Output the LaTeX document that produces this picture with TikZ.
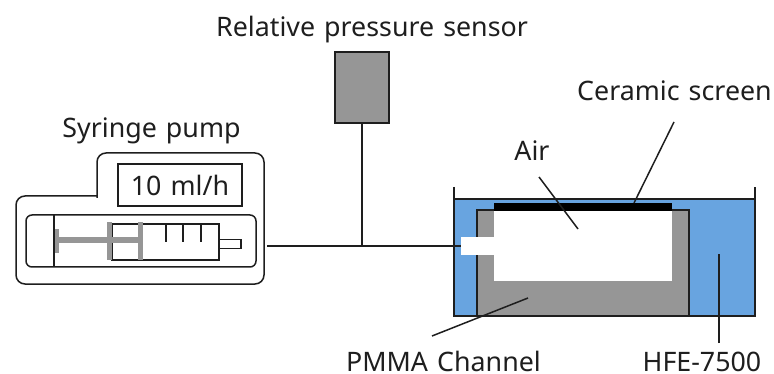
\documentclass[tikz,border=0pt]{standalone}
\usepackage{fontspec}
\setmainfont[WordSpace=1.3]{Noto Sans}
\definecolor{tankblue}{RGB}{104,164,224}
\definecolor{pmma}{RGB}{150,150,150}
\definecolor{ink}{RGB}{30,30,30}
\tikzset{
  outline/.style={draw=ink,line width=1.5pt},
  leader/.style={draw=ink,line width=1.5pt},
  lbl/.style={inner sep=0pt,anchor=base,font=\fontsize{26.8}{30}\selectfont,text=ink},
  blk/.style={inner sep=0pt,outer sep=0pt,minimum width=0pt,minimum height=0pt}
}
\begin{document}
\begin{tikzpicture}[x=1pt,y=-1pt]
\useasboundingbox (0,0) rectangle (774,374);
% pump case
\draw[outline,rounded corners=9pt] (97,198) -- (97,153) -- (264,153) -- (264,284) -- (16,284) -- (16,196) -- (97,196);
\node[draw=ink,line width=1.5pt,blk,minimum width=124pt,minimum height=42pt,font=\fontsize{26.8}{30}\selectfont,text=ink] (rate) at (180,185) {10 ml/h};
\node[draw=ink,line width=1.5pt,rounded corners=6pt,blk,minimum width=230pt,minimum height=52pt] (bay) at (141,241) {};
\draw[outline] (54,215) -- (54,267);
% syringe
\node[draw=ink,line width=1.5pt,blk,minimum width=107pt,minimum height=36pt] (barrel) at (165.5,242) {};
\node[draw=ink,line width=1.5pt,fill=white,blk,minimum width=22pt,minimum height=9pt] (tip) at (230,244) {};
\fill[pmma] (54.5,229) rectangle (59,253);
\fill[pmma] (58,237) rectangle (143,243);
\fill[pmma] (107,222) rectangle (112,260.5);
\fill[pmma] (138,222) rectangle (143,260.5);
\draw[outline] (166,224) -- (166,242) (183,224) -- (183,242) (201,224) -- (201,242);
% tank
\fill[tankblue] (454,199) rectangle (755,316);
\draw[outline] (454,187) -- (454,316) -- (755,316) -- (755,187);
\draw[outline] (454,199) -- (755,199);
\node[fill=pmma,draw=ink,line width=1.5pt,blk,minimum width=212pt,minimum height=106pt] (channel) at (583,263) {};
\fill[white] (494,211) rectangle (672,281);
\node[fill=black,blk,minimum width=178pt,minimum height=8pt] (screen) at (583,207) {};
\node[fill=white,blk,minimum width=34pt,minimum height=18pt] (port) at (478,246) {};
% sensor
\node[fill=pmma,draw=ink,line width=1.8pt,blk,minimum width=54pt,minimum height=71pt] (sensor) at (362,87.5) {};
% tubing
\coordinate (pumpout) at (267,246);
\coordinate (tee) at (362,246);
\draw[leader] (pumpout) -- (tee) -- (port.west);
\draw[leader] (sensor.south) -- (tee);
% labels
\node[lbl] (tsensor) at (372,37) {Relative pressure sensor};
\node[lbl] (tpump) at (151.5,138) {Syringe pump};
\node[lbl] (tscreen) at (674.5,101) {Ceramic screen};
\node[lbl] (tair) at (532,161) {Air};
\node[lbl] (tpmma) at (443.5,371) {PMMA Channel};
\node[lbl] (thfe) at (702,371) {HFE-7500};
% leaders
\coordinate (airend) at (578,229);
\coordinate (pmmaend) at (528,298);
\coordinate (hfeend) at (719,254);
\coordinate (airstart) at (539,177);
\coordinate (screenstart) at (674,122);
\coordinate (pmmastart) at (432,336);
\coordinate (hfestart) at (719,343);
\draw[leader] (airstart) -- (airend);
\draw[leader] (screen.north -| 634,0) -- (screenstart);
\draw[leader] (pmmastart) -- (pmmaend);
\draw[leader] (hfestart) -- (hfeend);
\end{tikzpicture}
\end{document}
